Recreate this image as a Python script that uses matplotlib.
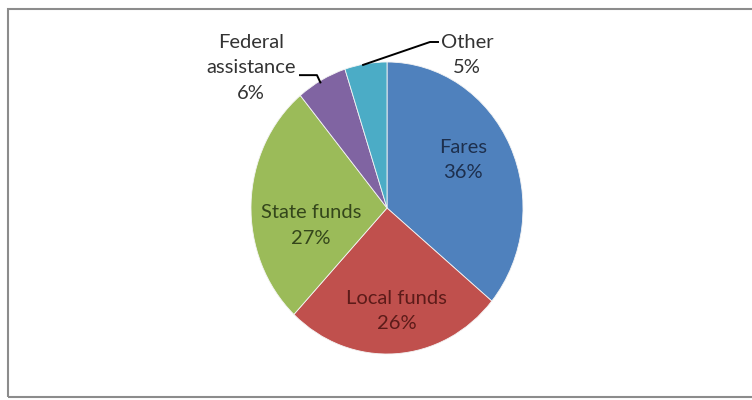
import matplotlib
matplotlib.use("Agg")
import matplotlib.pyplot as plt

labels = ["Fares", "Local funds", "State funds", "Federal\nassistance", "Other"]
shares = [36, 26, 27, 6, 5]
colors = ["#4F81BD", "#C0504D", "#9BBB59", "#8064A2", "#4BACC6"]
text_colors = ["#1d2f4d", "#5c1b19", "#34461b", "#333333", "#333333"]

# label anchor positions, in pie radii
label_pos = [(0.56, 0.33), (0.07, -0.705), (-0.56, -0.12), (-1.0, 0.96), (0.59, 1.05)]

plt.rcParams["font.family"] = ["Lato", "DejaVu Sans"]

fig = plt.figure(figsize=(7.52, 4.0), dpi=100)
# grey frame around the chart area
fig.patches.append(plt.Rectangle((7.5 / 752, 3 / 400), 760 / 752, 388 / 400,
                                 transform=fig.transFigure, fill=False,
                                 edgecolor="#8c8c8c", linewidth=1.5))

# pie is slightly stretched vertically in the reference (rx=136, ry=146 px)
rx, ry = 136, 146
ax = fig.add_axes([(387 - 1.25 * rx) / 752, (192 - 1.25 * ry) / 400,
                   2.5 * rx / 752, 2.5 * ry / 400])
ax.pie(shares, colors=colors, startangle=90, counterclock=False,
       wedgeprops=dict(linewidth=0.6, edgecolor="#f4f4f4"))
ax.set_xlim(-1.25, 1.25)
ax.set_ylim(-1.25, 1.25)
ax.set_aspect("auto")

for lab, val, (x, y), tc in zip(labels, shares, label_pos, text_colors):
    ax.text(x, y, f"{lab}\n{val}%", ha="center", va="center",
            fontsize=14.5, color=tc, linespacing=1.6)

# leader lines
ax.plot([-0.64, -0.515, -0.49], [0.91, 0.91, 0.86], color="black", lw=1.4)
ax.plot([0.375, 0.316, -0.176], [1.137, 1.137, 0.98], color="black", lw=1.4)

plt.savefig("out.png", dpi=100)
